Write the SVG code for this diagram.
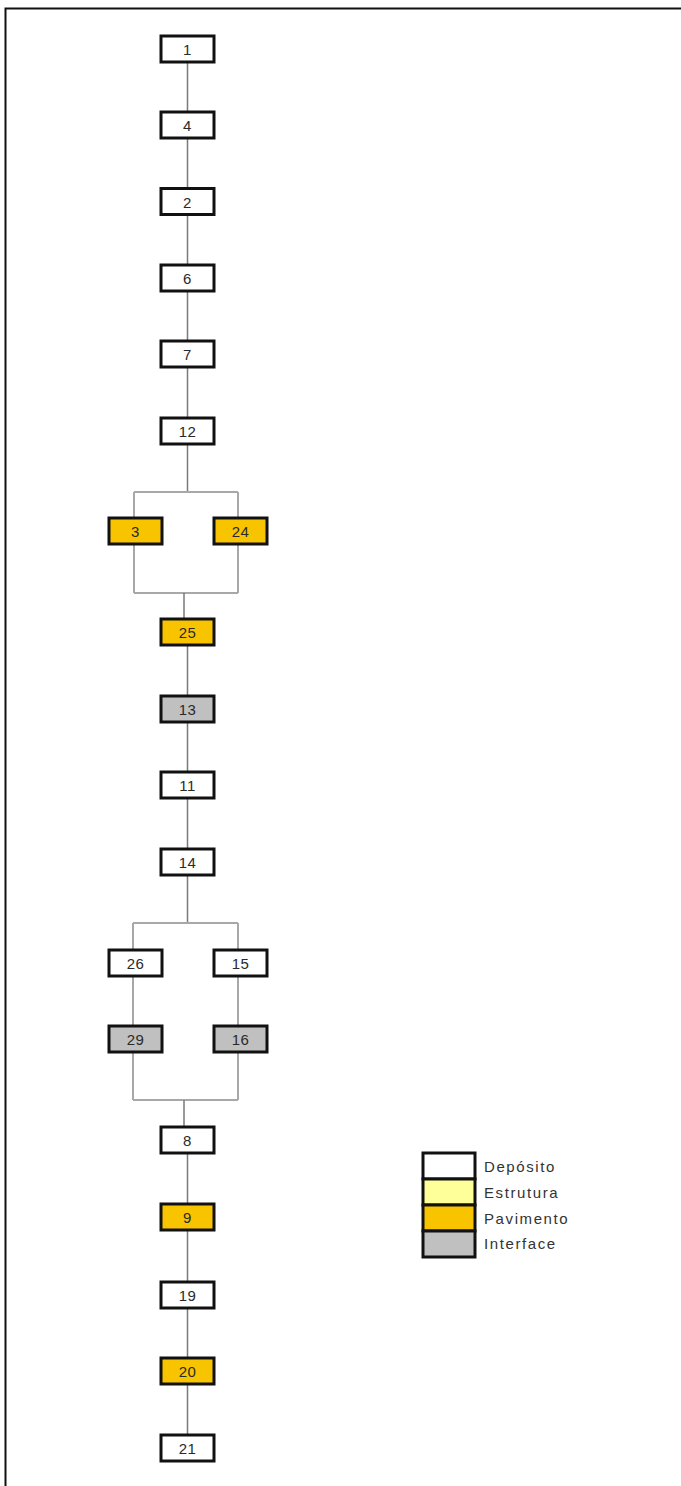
<svg xmlns="http://www.w3.org/2000/svg" width="681" height="1486" viewBox="0 0 681 1486">
<style>
.n rect{stroke:#111;stroke-width:3}
.w{fill:#fff}.y{fill:#f8c400}.g{fill:#c0c0c0}.e{fill:#ffff99}
.n text{font-family:"Liberation Sans",Arial,sans-serif;font-size:15px;letter-spacing:0.5px;fill:#2a2a2a;text-anchor:middle}
.c{stroke:#7a7a7a;stroke-width:1.5;fill:none}
.b{stroke:#a8a8a8;stroke-width:2;fill:none}
.lg text{font-family:"Liberation Sans",Arial,sans-serif;font-size:15px;letter-spacing:1.6px;fill:#333}
</style>
<rect width="681" height="1486" fill="#fff"/>
<path d="M5.5 1486V8.5H681" fill="none" stroke="#111" stroke-width="2"/>
<g id="connectors">
<path class="c" d="M187.5 49V430"/>
<path class="c" d="M187.5 430V492"/>
<path class="b" d="M134 492H238M134 492V593M238 492V593M134 593H238"/>
<path class="c" d="M184 593V632"/>
<path class="c" d="M187.5 632V923"/>
<path class="b" d="M133 923H238M133 923V1100M238 923V1100M133 1100H238"/>
<path class="c" d="M184 1100V1140"/>
<path class="c" d="M187.5 1140V1448"/>
</g>
<g id="n1" class="n"><rect class="w" x="161" y="36" width="53" height="26"/><text x="187.5" y="55">1</text></g>
<g id="n4" class="n"><rect class="w" x="161" y="112" width="53" height="26"/><text x="187.5" y="131">4</text></g>
<g id="n2" class="n"><rect class="w" x="161" y="188.5" width="53" height="26"/><text x="187.5" y="207.5">2</text></g>
<g id="n6" class="n"><rect class="w" x="161" y="265" width="53" height="26"/><text x="187.5" y="284">6</text></g>
<g id="n7" class="n"><rect class="w" x="161" y="341" width="53" height="26"/><text x="187.5" y="360">7</text></g>
<g id="n12" class="n"><rect class="w" x="161" y="418" width="53" height="26"/><text x="187.5" y="437">12</text></g>
<g id="n3" class="n"><rect class="y" x="109" y="518" width="53" height="26"/><text x="135.5" y="537">3</text></g>
<g id="n24" class="n"><rect class="y" x="214" y="518" width="53" height="26"/><text x="240.5" y="537">24</text></g>
<g id="n25" class="n"><rect class="y" x="161" y="619" width="53" height="26"/><text x="187.5" y="638">25</text></g>
<g id="n13" class="n"><rect class="g" x="161" y="696" width="53" height="26"/><text x="187.5" y="715">13</text></g>
<g id="n11" class="n"><rect class="w" x="161" y="772" width="53" height="26"/><text x="187.5" y="791">11</text></g>
<g id="n14" class="n"><rect class="w" x="161" y="849" width="53" height="26"/><text x="187.5" y="868">14</text></g>
<g id="n26" class="n"><rect class="w" x="109" y="950" width="53" height="26"/><text x="135.5" y="969">26</text></g>
<g id="n15" class="n"><rect class="w" x="214" y="950" width="53" height="26"/><text x="240.5" y="969">15</text></g>
<g id="n29" class="n"><rect class="g" x="109" y="1026" width="53" height="26"/><text x="135.5" y="1045">29</text></g>
<g id="n16" class="n"><rect class="g" x="214" y="1026" width="53" height="26"/><text x="240.5" y="1045">16</text></g>
<g id="n8" class="n"><rect class="w" x="161" y="1127" width="53" height="26"/><text x="187.5" y="1146">8</text></g>
<g id="n9" class="n"><rect class="y" x="161" y="1204" width="53" height="26"/><text x="187.5" y="1223">9</text></g>
<g id="n19" class="n"><rect class="w" x="161" y="1282" width="53" height="26"/><text x="187.5" y="1301">19</text></g>
<g id="n20" class="n"><rect class="y" x="161" y="1358" width="53" height="26"/><text x="187.5" y="1377">20</text></g>
<g id="n21" class="n"><rect class="w" x="161" y="1435" width="53" height="26"/><text x="187.5" y="1454">21</text></g>
<g id="legend" class="lg">
<rect class="w" x="423" y="1153" width="52" height="26" stroke="#111" stroke-width="3"/>
<rect class="e" x="423" y="1179" width="52" height="26" stroke="#111" stroke-width="3"/>
<rect class="y" x="423" y="1205" width="52" height="26" stroke="#111" stroke-width="3"/>
<rect class="g" x="423" y="1231" width="52" height="26" stroke="#111" stroke-width="3"/>
<text x="484" y="1172">Depósito</text>
<text x="484" y="1198">Estrutura</text>
<text x="484" y="1224">Pavimento</text>
<text x="484" y="1249">Interface</text>
</g>
</svg>
